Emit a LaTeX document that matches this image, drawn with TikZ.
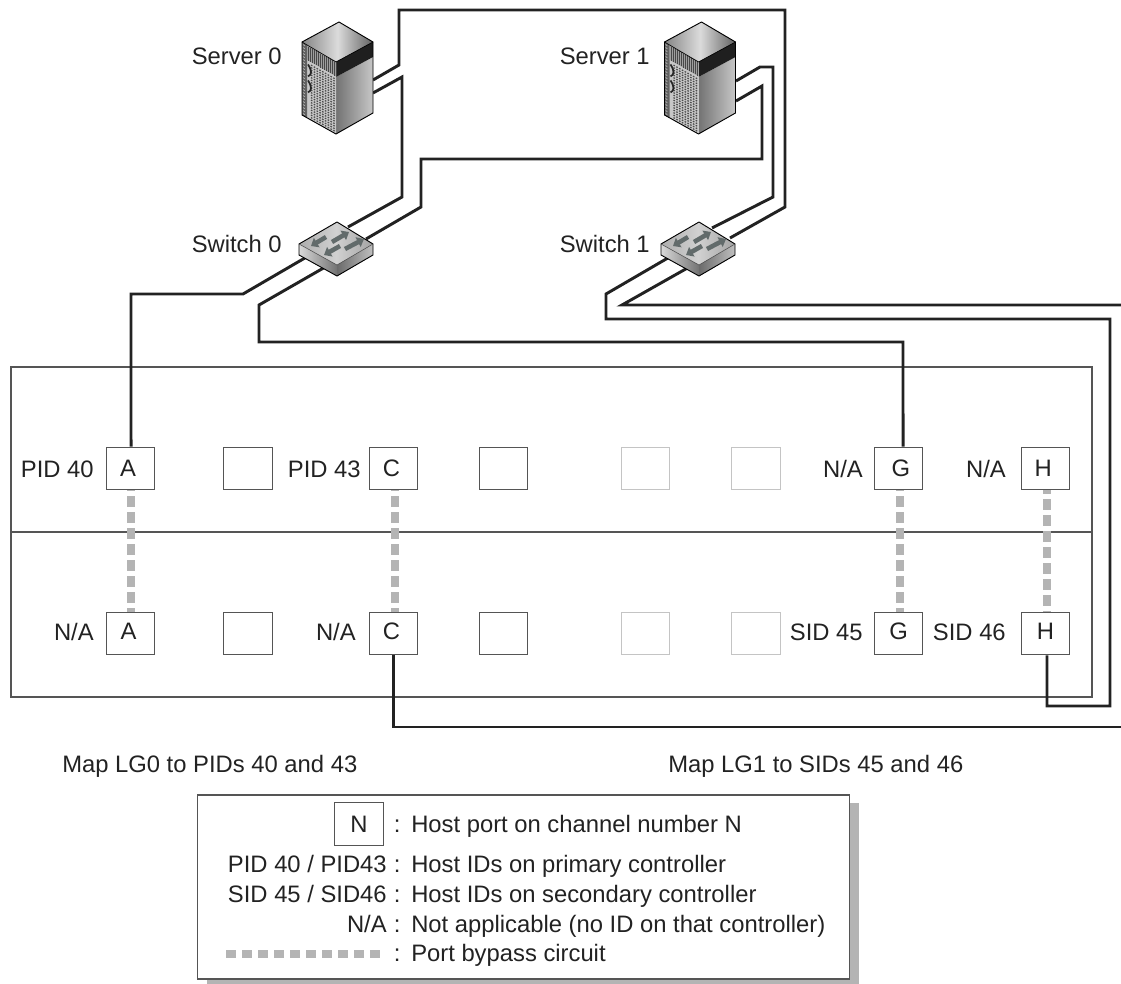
\documentclass[tikz,border=0pt]{standalone}
\usepackage{fontspec}
\setmainfont{Liberation Sans}
\usetikzlibrary{arrows.meta}
\definecolor{inkgray}{HTML}{222222}
\definecolor{rulegray}{HTML}{555555}
\definecolor{fadegray}{HTML}{C4C4C4}
\definecolor{passgray}{HTML}{B4B4B4}
\definecolor{arrowgray}{HTML}{626B6B}

\tikzset{
  tag/.style={inner sep=0pt,text=inkgray,font=\fontsize{17.85}{21}\selectfont},
  portbox/.style={tag,draw=rulegray,line width=0.85pt,fill=white,minimum width=36.5pt,minimum height=32pt},
  portlow/.style={portbox,text depth=3pt},
  fadedbox/.style={portbox,draw=fadegray},
  cable/.style={line width=2.2pt,color=inkgray},
  bypass/.style={line width=6pt,color=passgray,dash pattern=on 7.9pt off 4.1pt},
  swarrow/.style={line width=3.4pt,color=arrowgray,-{Triangle[length=5pt,width=8pt]}},
  serverunit/.pic={
    % top
    \shade[left color=black!48,right color=black!62,middle color=black!14] (0,0) -- (34,20) -- (-3,40) -- (-37,20) -- cycle;
    % right face
    \shade[shading angle=65,left color=black!55,right color=black!22] (-3,55) -- (34,35) -- (34,91) -- (-3,112) -- cycle;
    \fill[black!88] (-3,40) -- (34,20) -- (34,35) -- (-3,55) -- cycle;
    % front face, skewed
    \begin{scope}[cm={1,-0.57,0,1,(-37,20)}]
      \fill[black!22] (0,0) rectangle (34,73);
      \fill[black!62] (0,0) rectangle (5,73);
      \foreach \i in {2,5,...,71} \draw[black!25,line width=0.5pt,dash pattern=on 1.5pt off 1.5pt] (1,\i) -- (4,\i);
      \fill[black!38] (5,0) rectangle (34,15);
      \foreach \i in {6.5,8.5,...,33} \draw[black!72,line width=0.6pt] (\i,1) -- (\i,15);
      \foreach \i in {18,20.5,...,72} \draw[black!70,line width=0.9pt,dash pattern=on 1.2pt off 1.2pt] (9,\i) -- (34,\i);
      \draw[black!85,line width=1.3pt] (6,19) .. controls (10,23) and (10,27) .. (6,31);
      \draw[black!85,line width=1.3pt] (6,35) .. controls (10,39) and (10,43) .. (6,47);
    \end{scope}
    \draw[black,line width=0.7pt,line join=round] (0,0) -- (34,20) -- (34,91) -- (-3,112) -- (-37,93) -- (-37,20) -- cycle;
    \draw[black,line width=0.5pt] (-37,20) -- (-3,40) -- (34,20);
  },
  switchunit/.pic={
    \shade[left color=black!32,right color=black!36,middle color=black!18] (0,0) -- (36,22) -- (0,43) -- (-38,22) -- cycle;
    \shade[left color=black!15,right color=black!55] (-38,22) -- (0,43) -- (0,54) -- (-38,33) -- cycle;
    \shade[left color=black!58,right color=black!25] (0,43) -- (36,22) -- (36,33) -- (0,54) -- cycle;
    \draw[black,line width=0.7pt,line join=round] (0,0) -- (36,22) -- (36,33) -- (0,54) -- (-38,33) -- (-38,22) -- cycle;
    \draw[black!70,line width=0.4pt] (-38,22) -- (0,43) -- (36,22);
    \draw[swarrow] (-11,15) -- (-26,24);
    \draw[swarrow] (-5,20) -- (12,10);
    \draw[swarrow] (3,24) -- (-13,33);
    \draw[swarrow] (8,27) -- (27,17);
  }
}

\begin{document}
\begin{tikzpicture}[x=0.75pt,y=-0.75pt]
\useasboundingbox (0,0) rectangle (1121,984);

% enclosure
\draw[rulegray,line width=0.85pt] (11,367) rectangle (1092,697);
\draw[rulegray,line width=0.85pt] (11,532) -- (1092,532);

% ports, upper row
\node[portbox] (a0) at (130.5,468.5) {A\kern3.5pt};
\node[portbox] (u0) at (248,468.5) {};
\node[portbox] (c0) at (393.5,468.5) {C\kern3pt};
\node[portbox] (u1) at (503.5,468.5) {};
\node[fadedbox] (u2) at (645.5,468.5) {};
\node[fadedbox] (u3) at (756,468.5) {};
\node[portbox] (g0) at (898.5,468.5) {\kern3.5pt G};
\node[portbox] (h0) at (1045.5,468.5) {H\kern3.5pt};

% ports, lower row
\node[portlow] (a1) at (130.5,633.5) {A\kern3pt};
\node[portbox] (u4) at (248,633.5) {};
\node[portlow] (c1) at (393.5,633.5) {C\kern3pt};
\node[portbox] (u5) at (503.5,633.5) {};
\node[fadedbox] (u6) at (645.5,633.5) {};
\node[fadedbox] (u7) at (756,633.5) {};
\node[portlow] (g1) at (898.5,633.5) {G};
\node[portlow] (h1) at (1045.5,633.5) {H};

% port bypass
\path[draw,bypass,dash phase=7.5pt] (a0.south) -- (a1.north);
\path[draw,bypass,dash phase=7.5pt] ([xshift=1pt]c0.south) -- ([xshift=1pt]c1.north);
\path[draw,bypass,dash phase=7.5pt] ([xshift=1pt]g0.south) -- ([xshift=1pt]g1.north);
\path[draw,bypass,dash phase=5.2pt] ([xshift=1pt]h0.south) -- ([xshift=1pt]h1.north);

% port labels
\node[tag,anchor=base east] (pid40) at (94,477) {PID 40};
\node[tag,anchor=base east] (pid43) at (361,477) {PID 43};
\node[tag,anchor=base east] (na0) at (863,477) {N/A};
\node[tag,anchor=base east] (na1) at (1006,477) {N/A};
\node[tag,anchor=base east] (na2) at (94,640) {N/A};
\node[tag,anchor=base east] (na3) at (356,640) {N/A};
\node[tag,anchor=base east] (sid45) at (863,640) {SID 45};
\node[tag,anchor=base east] (sid46) at (1006,640) {SID 46};

% cable ends
\coordinate (s0up) at (373,80);
\coordinate (s0dn) at (373,93);
\coordinate (s1up) at (736,81);
\coordinate (s1dn) at (736,101);
\coordinate (w0a) at (348,227);
\coordinate (w0b) at (366,239);
\coordinate (w0c) at (310,255);
\coordinate (w0d) at (327,266);
\coordinate (w1a) at (712,228);
\coordinate (w1b) at (730,238);
\coordinate (w1c) at (673,255);
\coordinate (w1d) at (691,266);
\coordinate (out0) at (1121,305);
\coordinate (out1) at (1121,727);

% cables
\path[draw,cable] (s0up) -- (399,65) -- (399,10) -- (785,10) -- (785,207) -- (w1b);
\path[draw,cable] (s0dn) -- (402,77) -- (402,197) -- (w0a);
\path[draw,cable] (s1up) -- (760,67) -- (773,67) -- (773,197) -- (w1a);
\path[draw,cable] (s1dn) -- (762,86) -- (762,159) -- (421,159) -- (421,207) -- (w0b);
\path[draw,cable] (w0c) -- (243,294) -- (131,294) -- ([xshift=0.4pt]a0.north);
\path[draw,cable] (w0d) -- (259,305) -- (259,342) -- (903,342) -- ([xshift=3.4pt]g0.north);
\path[draw,cable] (w1c) -- (606,294) -- (606,319) -- (1110,319) -- (1110,706) -- (1047,706) -- ([xshift=1.1pt]h1.south);
\path[draw,cable] (w1d) -- (622,305) -- (out0);
\path[draw,cable] (c1.south) -- (393.5,727) -- (out1);

% servers and switches
\pic at (339,22) {serverunit};
\pic at (701.5,22) {serverunit};
\pic at (337,222) {switchunit};
\pic at (699,222) {switchunit};

\node[tag,anchor=base east] (server0) at (282,65) {Server 0};
\node[tag,anchor=base east] (server1) at (650,65) {Server 1};
\node[tag,anchor=base east] (switch0) at (282,253) {Switch 0};
\node[tag,anchor=base east] (switch1) at (650,253) {Switch 1};

\node[tag,anchor=base west] (map0) at (62,772) {Map LG0 to PIDs 40 and 43};
\node[tag,anchor=base west] (map1) at (668,772) {Map LG1 to SIDs 45 and 46};

% legend
\fill[passgray] (207,803) rectangle (859,986);
\draw[rulegray,fill=white,line width=0.85pt] (197.5,795) rectangle (849.5,979);
\node[portbox] (nkey) at (359,824.2) {N};
\node[tag,anchor=base west] (key0) at (393.7,832) {:\kern8pt Host port on channel number N};
\node[tag,anchor=base east] (lab1) at (387,872.5) {PID 40 / PID43};
\node[tag,anchor=base west] (key1) at (393.7,872.5) {:\kern8pt Host IDs on primary controller};
\node[tag,anchor=base east] (lab2) at (387,902.5) {SID 45 / SID46};
\node[tag,anchor=base west] (key2) at (393.7,902.5) {:\kern8pt Host IDs on secondary controller};
\node[tag,anchor=base east] (lab3) at (387,932) {N/A};
\node[tag,anchor=base west] (key3) at (393.7,932) {:\kern8pt Not applicable (no ID on that controller)};
\node[tag,anchor=base west] (key4) at (393.7,961) {:\kern8pt Port bypass circuit};
\coordinate (pass0) at (226,954);
\coordinate (pass1) at (380,954);
\path[draw,bypass,dash pattern=on 7.5pt off 4.5pt] (pass0) -- (pass1);
\end{tikzpicture}
\end{document}
